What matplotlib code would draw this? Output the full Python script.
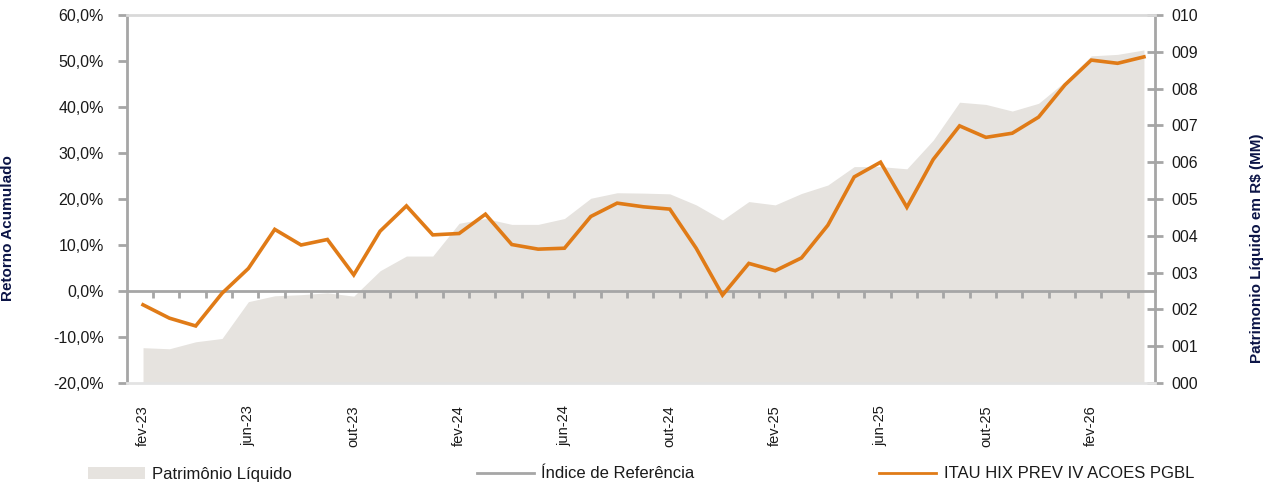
import numpy as np
import matplotlib
matplotlib.use('Agg')
import matplotlib.pyplot as plt
from matplotlib.lines import Line2D
from matplotlib.patches import Patch
from matplotlib.ticker import FuncFormatter, FixedLocator

plt.rcParams['font.family'] = ['Liberation Sans', 'DejaVu Sans']

# dados (fev-23 a abr-26, mensal)
meses = ['fev-23', 'mar-23', 'abr-23', 'mai-23', 'jun-23', 'jul-23', 'ago-23', 'set-23', 'out-23', 'nov-23',
         'dez-23', 'jan-24', 'fev-24', 'mar-24', 'abr-24', 'mai-24', 'jun-24', 'jul-24', 'ago-24', 'set-24',
         'out-24', 'nov-24', 'dez-24', 'jan-25', 'fev-25', 'mar-25', 'abr-25', 'mai-25', 'jun-25', 'jul-25',
         'ago-25', 'set-25', 'out-25', 'nov-25', 'dez-25', 'jan-26', 'fev-26', 'mar-26', 'abr-26']
retorno = [-3.0, -5.9, -7.6, -0.5, 4.9, 13.4, 10.0, 11.2, 3.5, 13.0,
           18.5, 12.2, 12.5, 16.7, 10.1, 9.1, 9.3, 16.2, 19.1, 18.3,
           17.8, 9.3, -0.9, 6.0, 4.4, 7.2, 14.3, 24.8, 28.0, 18.2,
           28.6, 35.9, 33.4, 34.3, 37.8, 44.8, 50.2, 49.5, 50.9]
patrimonio = [0.96, 0.93, 1.12, 1.21, 2.21, 2.37, 2.40, 2.45, 2.36, 3.05,
              3.45, 3.45, 4.34, 4.47, 4.31, 4.31, 4.47, 5.02, 5.17, 5.16,
              5.14, 4.84, 4.43, 4.93, 4.84, 5.15, 5.38, 5.88, 5.88, 5.82,
              6.60, 7.63, 7.57, 7.39, 7.60, 8.19, 8.89, 8.93, 9.05]
rotulos = ['fev-23', 'jun-23', 'out-23', 'fev-24', 'jun-24', 'out-24', 'fev-25', 'jun-25', 'out-25', 'fev-26']

laranja = '#E07B17'
cinza = '#A6A6A6'
area = '#E6E3DF'
azul = '#0B1446'

x = np.arange(len(meses))

fig = plt.figure(figsize=(12.72, 4.84), dpi=100)
ax = fig.add_axes([126.7 / 1272, 1 - 383 / 484, (1155 - 126.7) / 1272, 368 / 484])
ax2 = ax.twinx()

# area do patrimonio (eixo direito)
ax2.fill_between(x, 0, patrimonio, color=area, linewidth=0)
ax2.set_ylim(0, 10)
ax2.set_yticks(np.arange(0, 11))
ax2.yaxis.set_major_formatter(FuncFormatter(lambda v, p: '{:03d}'.format(int(round(v)))))
ax2.tick_params(axis='y', direction='inout', length=12, width=2, color=cinza, pad=6,
                labelsize=11.5, labelcolor='#1A1A1A')
for s in ['top', 'left', 'bottom']:
    ax2.spines[s].set_visible(False)
ax2.spines['right'].set_color(cinza)
ax2.spines['right'].set_linewidth(2)
ax2.set_ylabel('Patrimonio Líquido em R$ (MM)', fontsize=11, fontweight='bold', color=azul)
ax2.yaxis.set_label_coords((1250 - 126.7) / (1155 - 126.7), 0.367)

# linha do fundo (eixo esquerdo), por cima da area
ax.set_zorder(ax2.get_zorder() + 1)
ax.patch.set_visible(False)
ax.plot(x, retorno, color=laranja, linewidth=2.6, solid_joinstyle='miter')
ax.set_ylim(-20, 60)
ax.set_xlim(-0.62, 38.42)
ax.set_yticks(np.arange(-20, 61, 10))
ax.yaxis.set_major_formatter(FuncFormatter(lambda v, p: '{:.1f}%'.format(v).replace('.', ',')))
ax.tick_params(axis='y', direction='out', length=6.5, width=2, color=cinza, pad=10,
               labelsize=11.5, labelcolor='#1A1A1A')
ax.set_xticks(x[::4])
ax.set_xticklabels(rotulos, rotation=90, fontsize=10.5, color='#1A1A1A')
ax.tick_params(axis='x', length=0, pad=16)
ax.spines['left'].set_color(cinza)
ax.spines['left'].set_linewidth(2)
ax.spines['right'].set_visible(False)
ax.spines['top'].set_color('#D9D9D9')
ax.spines['top'].set_linewidth(2)
ax.spines['bottom'].set_color('#E3E3E3')
ax.spines['bottom'].set_linewidth(2)
ax.set_ylabel('Retorno Acumulado', fontsize=11, fontweight='bold', color=azul)
ax.yaxis.set_label_coords(-(126.7 - 15) / (1155 - 126.7), 0.42)

# linha do zero com marcas entre os meses
sec = ax.secondary_xaxis(0.25)
sec.xaxis.set_major_locator(FixedLocator(np.arange(1, len(meses)) - 0.62))
sec.tick_params(axis='x', direction='out', length=5, width=2, color=cinza, labelbottom=False)
sec.spines['bottom'].set_color(cinza)
sec.spines['bottom'].set_linewidth(2)

# legenda
handles = [Patch(facecolor=area, edgecolor='none'),
           Line2D([], [], color=cinza, linewidth=2),
           Line2D([], [], color=laranja, linewidth=2)]
labels = ['Patrimônio Líquido', 'Índice de Referência', 'ITAU HIX PREV IV ACOES PGBL']
fig.legend(handles, labels, ncol=3, loc='center left', bbox_to_anchor=(88 / 1272, 1 - 474 / 484),
           frameon=False, fontsize=12, handlelength=3.4, handletextpad=0.45, columnspacing=11.1,
           borderpad=0, borderaxespad=0, labelcolor='#1A1A1A')

plt.savefig('out.png', dpi=100)
